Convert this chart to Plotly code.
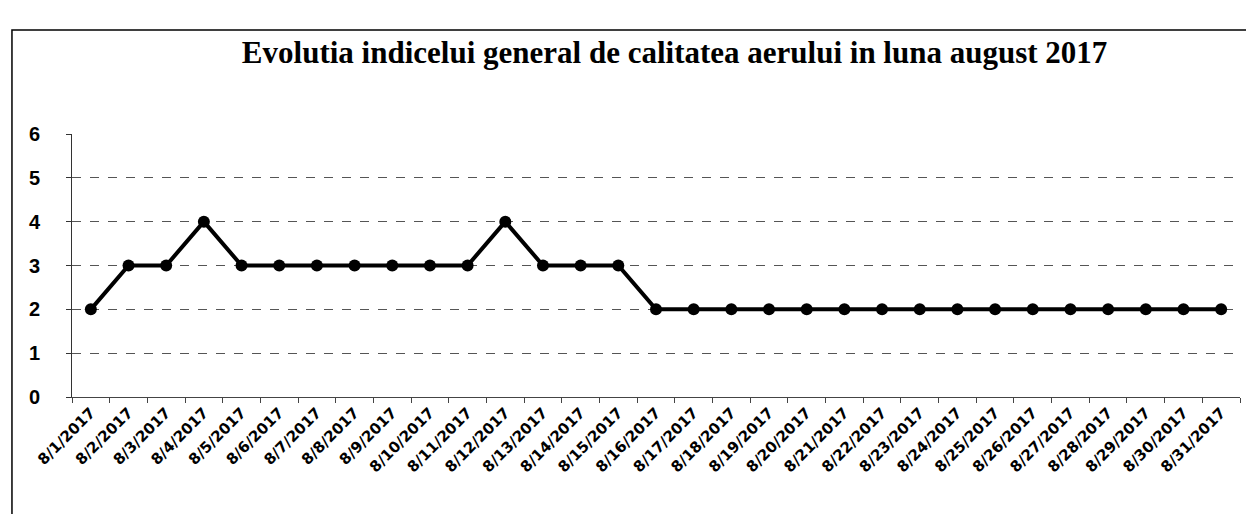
import plotly.graph_objects as go

dates = [f"8/{d}/2017" for d in range(1, 32)]
values = [2, 3, 3, 4, 3, 3, 3, 3, 3, 3, 3, 4, 3, 3, 3,
          2, 2, 2, 2, 2, 2, 2, 2, 2, 2, 2, 2, 2, 2, 2, 2]
y_ticks = [0, 1, 2, 3, 4, 5, 6]

title_text = "Evolutia indicelui general de calitatea aerului in luna august 2017"

fig = go.Figure()
fig.add_trace(go.Scatter(
    x=dates, y=values, mode="lines+markers",
    line=dict(color="black", width=4),
    marker=dict(color="black", size=12),
    showlegend=False, cliponaxis=False,
))

fig.update_layout(
    width=1246, height=506,
    paper_bgcolor="white", plot_bgcolor="white",
    margin=dict(l=64, r=14, t=126, b=117, autoexpand=False),
    title=dict(text=title_text, x=0.535, xanchor="center", y=0.913, yanchor="middle",
               font=dict(family="Liberation Serif", size=31, color="black", weight="bold")),
    xaxis=dict(
        type="category", tickangle=-45, range=[-0.5, 30.5], automargin=False,
        tickfont=dict(family="DejaVu Sans", size=15, color="black", weight="bold"),
        showgrid=False, showline=True, linecolor="#444", linewidth=1,
        ticks="outside", ticklen=5, tickcolor="#444", tickson="boundaries",
        zeroline=False,
    ),
    yaxis=dict(
        range=[0, 6], tickvals=y_ticks, automargin=False,
        tickfont=dict(family="Liberation Sans", size=20, color="black", weight="bold"),
        showgrid=True, gridcolor="#555", griddash="dash", gridwidth=1,
        showline=True, linecolor="#333", linewidth=1,
        ticks="outside", ticklen=5, tickcolor="#333",
        zeroline=False, ticklabelstandoff=22,
    ),
    shapes=[dict(type="rect", xref="paper", yref="paper",
                 x0=-0.0514, x1=1.0068, y0=-0.5, y1=1.395,
                 line=dict(color="black", width=1.5))],
)

fig.write_html("out.html")
